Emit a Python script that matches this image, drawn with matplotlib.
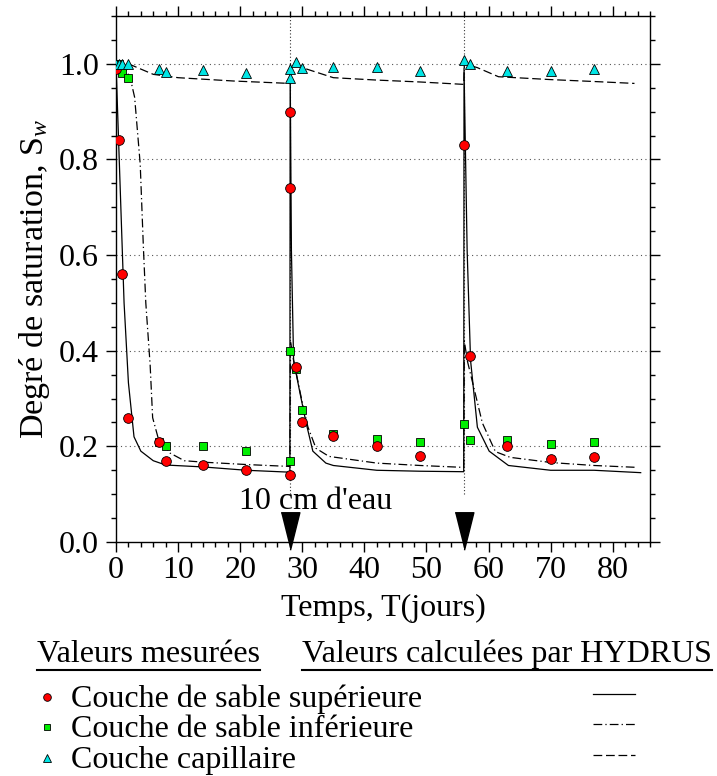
import numpy as np
import matplotlib
matplotlib.use("Agg")
import matplotlib.pyplot as plt
from matplotlib.lines import Line2D
from matplotlib.ticker import MultipleLocator

plt.rcParams['font.family'] = ['Liberation Serif', 'DejaVu Serif']
plt.rcParams['mathtext.fontset'] = 'custom'
plt.rcParams['mathtext.rm'] = 'Liberation Serif'
plt.rcParams['mathtext.it'] = 'Liberation Serif:italic'

# mesures - couche de sable superieure
t_sup = [0, 0.5, 1, 2, 7, 8, 14, 21, 28, 28, 28, 29, 30, 35, 42, 49, 56, 57, 63, 70, 77]
s_sup = [0.99, 0.84, 0.56, 0.26, 0.21, 0.17, 0.16, 0.15, 0.14, 0.74, 0.90, 0.365,
         0.25, 0.222, 0.20, 0.18, 0.83, 0.39, 0.20, 0.173, 0.177]
# mesures - couche de sable inferieure
t_inf = [0, 0.5, 1, 2, 7, 8, 14, 21, 28, 28, 29, 30, 35, 42, 49, 56, 57, 63, 70, 77]
s_inf = [1.0, 1.0, 0.98, 0.97, 0.21, 0.20, 0.20, 0.19, 0.17, 0.40, 0.362, 0.276,
         0.226, 0.216, 0.21, 0.246, 0.214, 0.214, 0.204, 0.21]
# mesures - couche capillaire
t_cap = [0, 0.5, 1, 2, 7, 8, 14, 21, 28, 28, 29, 30, 35, 42, 49, 56, 57, 63, 70, 77]
s_cap = [1.0, 1.0, 1.0, 1.0, 0.989, 0.982, 0.987, 0.981, 0.971, 0.989, 1.004, 0.991,
         0.993, 0.993, 0.986, 1.008, 1.0, 0.986, 0.986, 0.99]

# HYDRUS
h_t_sup = [0, 1.3, 2.0, 2.9, 4.0, 6.0, 8.0, 14, 21, 28,
           28.05, 28.25, 28.6, 29.5, 30.6, 31.7, 33.8, 35, 42, 49, 56,
           56.05, 56.55, 57.1, 58.2, 60.1, 63.2, 70, 77, 84.5]
h_s_sup = [1.0, 0.5, 0.333, 0.22, 0.19, 0.17, 0.161, 0.157, 0.150, 0.146,
           0.99, 0.61, 0.38, 0.32, 0.25, 0.19, 0.165, 0.160, 0.150, 0.148, 0.147,
           0.99, 0.61, 0.38, 0.24, 0.19, 0.16, 0.150, 0.150, 0.145]
h_t_inf = [0, 1.5, 2.3, 3.0, 3.9, 4.4, 4.8, 5.5, 5.9, 6.8, 8.7, 11, 14, 21, 28,
           28.1, 28.6, 29.8, 30.9, 32.2, 34.3, 42, 49, 56,
           56.1, 56.6, 59, 61.1, 63.5, 70.2, 77, 84]
h_s_inf = [1.0, 0.99, 0.97, 0.93, 0.79, 0.62, 0.5, 0.37, 0.26, 0.217, 0.186, 0.170, 0.167, 0.162, 0.158,
           0.42, 0.38, 0.304, 0.241, 0.196, 0.179, 0.165, 0.16, 0.156,
           0.42, 0.378, 0.249, 0.189, 0.177, 0.166, 0.16, 0.156]
h_t_cap = [0, 2, 6, 10, 19, 28, 28.1, 30, 35, 42, 49, 56, 56.1, 58.2, 61.6, 70, 77, 83.5]
h_s_cap = [1.0, 1.0, 0.978, 0.971, 0.964, 0.959, 1.0, 0.992, 0.971, 0.966, 0.962, 0.957,
           1.0, 0.992, 0.973, 0.967, 0.963, 0.959]

# jours d'inondation (10 cm d'eau)
floods = [28, 56]

W, H = 717, 776
fig = plt.figure(figsize=(W / 100, H / 100), dpi=100)
ax = fig.add_axes([116 / W, 1 - 542 / H, (650 - 116) / W, (542 - 16) / H])

fs = 23
dash_dot = (0, (7, 2.5, 1, 2.5))
dashed = (0, (7, 3))

# lignes de repere
for yy in [0.2, 0.4, 0.6, 0.8, 1.0]:
    ax.axhline(yy, color='#555555', lw=0.8, ls=(0, (1, 3)), zorder=1)
for f in floods:
    ax.plot([f, f], [0.1, 1.1], color='#333333', lw=0.8, ls=(0, (1, 2)), zorder=1)

ax.plot(h_t_sup, h_s_sup, color='k', lw=0.9, zorder=2)
ax.plot(h_t_inf, h_s_inf, color='k', lw=0.9, ls=dash_dot, zorder=2)
ax.plot(h_t_cap, h_s_cap, color='k', lw=0.9, ls=dashed, zorder=2)

ax.plot(t_sup, s_sup, 'o', ms=7, mfc='#ff0000', mec='k', mew=0.6, zorder=4)
ax.plot(t_inf, s_inf, 's', ms=6.2, mfc='#00ee00', mec='k', mew=0.6, zorder=3)
ax.plot(t_cap, s_cap, '^', ms=7.8, mfc='#00e5e5', mec='k', mew=0.6, zorder=5)

# fleches
arrow = [(-1, 2), (1, 2), (0, -2)]
ax.plot(floods, [0.022] * len(floods), ls='none', marker=arrow, ms=27,
        color='k', clip_on=False, zorder=6)
ax.text(32.2, 0.069, "10 cm d'eau", fontsize=fs, ha='center', va='baseline')

ax.set_xlim(0, 86)
ax.set_ylim(0, 1.1)
ax.xaxis.set_minor_locator(MultipleLocator(2))
ax.yaxis.set_minor_locator(MultipleLocator(0.05))
ax.set_xticks(np.arange(0, 81, 10))
ax.set_yticks(np.arange(0, 1.01, 0.2))
ax.yaxis.set_major_formatter(matplotlib.ticker.FormatStrFormatter('%.1f'))
ax.tick_params(which='both', direction='out', top=True, right=True, width=1)
ax.tick_params(which='major', length=7.2)
ax.tick_params(which='minor', length=3.6)
ax.tick_params(axis='x', labelsize=fs, pad=3)
ax.tick_params(axis='y', labelsize=fs, pad=5)
for sp in ax.spines.values():
    sp.set_linewidth(1.0)

ax.set_xlabel('Temps, T(jours)', fontsize=fs, labelpad=6)
ax.set_ylabel('Degré de saturation, S$_{w}$', fontsize=24.5, labelpad=5)

# legende en bas
def px(x, y):
    return x / W, 1 - y / H

t1 = fig.text(*px(37, 662), 'Valeurs mesurées', fontsize=fs, va='baseline', ha='left')
t2 = fig.text(*px(712, 662), 'Valeurs calculées par HYDRUS', fontsize=fs, va='baseline', ha='right')

rows = [
    ('Couche de sable supérieure', 707, 'o', '#ff0000', 5.5, '-'),
    ('Couche de sable inférieure', 737, 's', '#00ee00', 5.0, dash_dot),
    ('Couche capillaire', 768, '^', '#00e5e5', 5.5, dashed),
]
for label, yb, mk, col, ms, ls in rows:
    fig.text(*px(71, yb), label, fontsize=fs, va='baseline', ha='left')
    yc = yb - 10
    fig.add_artist(Line2D([47 / W], [1 - yc / H], marker=mk, ms=ms, mfc=col,
                          mec='k', mew=0.6, ls='none'))
    fig.add_artist(Line2D([593 / W, 635 / W], [1 - (yc - 3) / H] * 2,
                          color='k', lw=0.9, ls=ls))

fig.canvas.draw()
r = fig.canvas.get_renderer()
for t in (t1, t2):
    bb = t.get_window_extent(r)
    yy = 1 - 670 / H
    fig.add_artist(Line2D([bb.x0 / W, bb.x1 / W], [yy, yy], color='k', lw=1.5))

fig.savefig('out.png', dpi=100)
